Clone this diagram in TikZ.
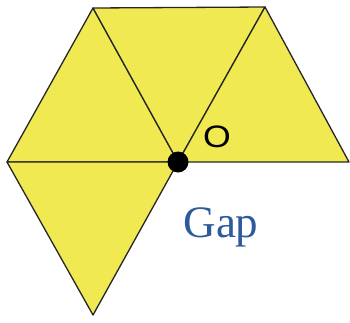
\documentclass[tikz,border=0pt]{standalone}
\usepackage{fontspec}
\setmainfont{Liberation Serif}
\setsansfont{Liberation Sans}
\definecolor{tileyellow}{HTML}{F0E952}
\definecolor{gapblue}{HTML}{2E5A9C}

\begin{document}
\begin{tikzpicture}[x=1pt, y=-1pt, line width=1.3pt]
    \useasboundingbox (0,0) rectangle (350,322);
    \coordinate (l) at (7,162);
    \coordinate (tl) at (93,8);
    \coordinate (tr) at (265,7);
    \coordinate (r) at (349,162);
    \coordinate (b) at (93,315);
    \coordinate (o) at (178,162);
    \foreach \p/\q/\s in {l/tl/o, tl/tr/o, tr/r/o, l/o/b}{
      \filldraw[draw=black!85, fill=tileyellow, line join=round] (\p) -- (\q) -- (\s) -- cycle;
    }
    \fill[black] (o) circle[radius=10.5];
    \node[font=\sffamily\fontsize{31}{31}\selectfont, xscale=1.15] (olabel) at (217,137) {O};
    \node[font=\fontsize{45}{45}\selectfont, text=gapblue, anchor=base] (gap) at (221,237) {Gap};
  \end{tikzpicture}
\end{document}
